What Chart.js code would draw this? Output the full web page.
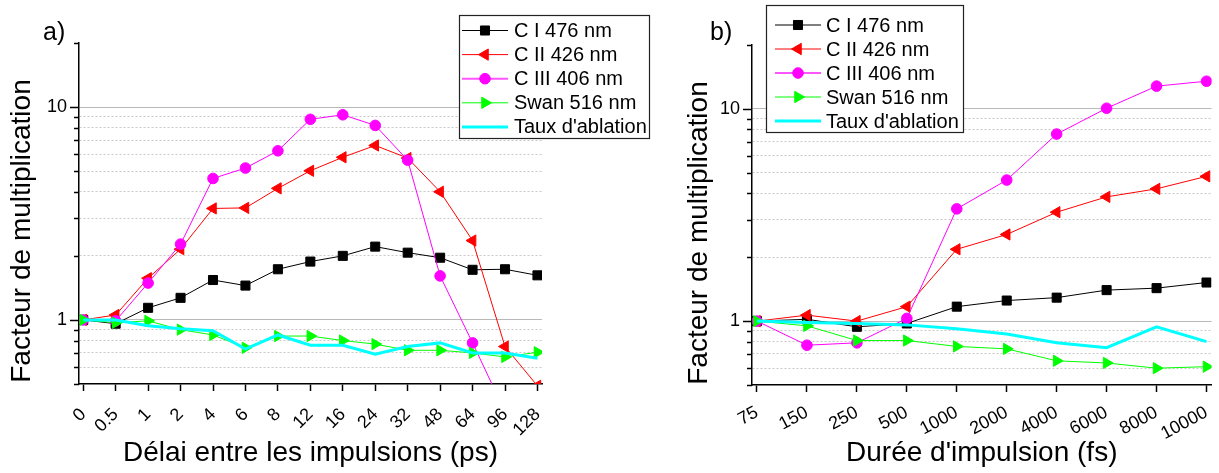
<!DOCTYPE html>
<html>
<head>
<meta charset="utf-8">
<script src="https://cdn.jsdelivr.net/npm/chart.js@4.4.0/dist/chart.umd.min.js"></script>
<style>
  body { margin: 0; background: #fff; width: 1219px; height: 473px; position: relative; overflow: hidden; }
  #wa { position: absolute; left: 0; top: 0; width: 660px; height: 473px; }
  #wb { position: absolute; left: 660px; top: 0; width: 559px; height: 473px; }
</style>
</head>
<body>
<div id="wa"><canvas id="chartA"></canvas></div>
<div id="wb"><canvas id="chartB"></canvas></div>
<script>
// Panel a) - delay between pulses (ps)
const delayLabels = ['0', '0.5', '1', '2', '4', '6', '8', '12', '16', '24', '32', '48', '64', '96', '128'];
const delayCI   = [1.0, 0.96, 1.14, 1.27, 1.54, 1.45, 1.73, 1.88, 2.0, 2.21, 2.07, 1.96, 1.72, 1.73, 1.62];
const delayCII  = [1.0, 1.055, 1.57, 2.15, 3.34, 3.36, 4.15, 5.02, 5.81, 6.6, 5.76, 4.0, 2.36, 0.75, 0.49];
const delayCIII = [1.0, 0.99, 1.49, 2.27, 4.62, 5.17, 6.23, 8.76, 9.2, 8.2, 5.63, 1.61, 0.78, 0.37, null];
const delaySwan = [1.0, 0.97, 0.99, 0.90, 0.85, 0.74, 0.84, 0.84, 0.80, 0.77, 0.72, 0.72, 0.70, 0.67, 0.705];
const delayAbl  = [1.0, 1.0, 0.94, 0.91, 0.89, 0.73, 0.85, 0.76, 0.76, 0.69, 0.75, 0.78, 0.70, 0.70, 0.66];

// Panel b) - pulse duration (fs)
const durLabels = ['75', '150', '250', '500', '1000', '2000', '4000', '6000', '8000', '10000'];
const durCI   = [1.0, 1.02, 0.94, 0.975, 1.17, 1.25, 1.29, 1.40, 1.43, 1.52];
const durCII  = [1.0, 1.067, 1.0, 1.17, 2.18, 2.56, 3.26, 3.85, 4.2, 4.81];
const durCIII = [1.0, 0.77, 0.79, 1.03, 3.38, 4.62, 7.61, 10.07, 12.8, 13.5];
const durSwan = [1.0, 0.95, 0.81, 0.81, 0.76, 0.74, 0.65, 0.635, 0.60, 0.61];
const durAbl  = [1.0, 0.985, 0.975, 0.96, 0.92, 0.87, 0.79, 0.75, 0.94, 0.80];

const seriesNames = ['C I 476 nm', 'C II 426 nm', 'C III 406 nm', 'Swan 516 nm', "Taux d'ablation"];
const yTitle = 'Facteur de multiplication';
const yTickVals = [0.5, 0.6, 0.7, 0.8, 0.9, 1, 2, 3, 4, 5, 6, 7, 8, 9, 10, 20];

const FONT = "'Liberation Sans', Arial, sans-serif";
const colors = ['#000000', '#ff0000', '#ff00ff', '#00ff00', '#00ffff'];
const markers = [
  { pointStyle: 'rect', rotation: 0, radius: 6.4 },
  { pointStyle: 'triangle', rotation: -90, radius: 6.5 },
  { pointStyle: 'circle', rotation: 0, radius: 5.3 },
  { pointStyle: 'triangle', rotation: 90, radius: 6.5 },
  null
];

function isMajor(v) { return v === 1 || v === 10; }

function makeDatasets(series) {
  return series.map((vals, i) => {
    const m = markers[i];
    return {
      label: seriesNames[i],
      data: vals.map((v, k) => ({ x: k, y: v })),
      borderColor: colors[i],
      backgroundColor: colors[i],
      borderWidth: m ? 1 : 3,
      pointStyle: m ? m.pointStyle : false,
      pointRotation: m ? m.rotation : 0,
      pointRadius: m ? m.radius : 0,
      pointBorderWidth: 1,
      tension: 0,
      order: 5 - i
    };
  });
}

// axis decorations: y tick marks, y title, legend box, panel letter
const decorPlugin = {
  id: 'decor',
  afterDraw(chart, args, o) {
    const ctx = chart.ctx;
    const ys = chart.scales.y;
    ctx.save();
    ctx.strokeStyle = '#000';
    ctx.lineWidth = 1.5;
    ys.ticks.forEach(t => {
      const py = Math.round(ys.getPixelForValue(t.value)) + 0.5;
      const len = isMajor(t.value) ? 9 : 5;
      ctx.beginPath();
      ctx.moveTo(ys.right, py);
      ctx.lineTo(ys.right - len, py);
      ctx.stroke();
    });

    // y axis title
    ctx.save();
    ctx.translate(o.yTitle.x, o.yTitle.y);
    ctx.rotate(-Math.PI / 2);
    ctx.font = '28px ' + FONT;
    ctx.fillStyle = '#000';
    ctx.textAlign = 'center';
    ctx.textBaseline = 'alphabetic';
    ctx.fillText(yTitle, 0, 0);
    ctx.restore();

    // legend
    const L = o.legend;
    ctx.fillStyle = '#fff';
    ctx.fillRect(L.x, L.y, L.w, L.h);
    ctx.strokeStyle = '#222';
    ctx.lineWidth = 1.2;
    ctx.strokeRect(L.x + 0.5, L.y + 0.5, L.w, L.h);
    ctx.font = '20px ' + FONT;
    ctx.textBaseline = 'middle';
    ctx.textAlign = 'left';
    seriesNames.forEach((name, i) => {
      const ry = L.row0 + i * L.step;
      const m = markers[i];
      ctx.strokeStyle = i === 2 ? '#ff55ff' : colors[i];
      ctx.lineWidth = m ? (i === 2 ? 2 : 1) : 3;
      ctx.beginPath();
      ctx.moveTo(L.lx0, ry);
      ctx.lineTo(L.lx1, ry);
      ctx.stroke();
      if (m) {
        ctx.fillStyle = colors[i];
        ctx.strokeStyle = colors[i];
        ctx.lineWidth = 1;
        Chart.helpers.drawPoint(ctx, { pointStyle: m.pointStyle, rotation: m.rotation, radius: m.radius, borderWidth: 1 }, (L.lx0 + L.lx1) / 2, ry);
      }
      ctx.fillStyle = '#000';
      ctx.fillText(name, L.tx, ry + 1);
    });

    ctx.font = '25px ' + FONT;
    ctx.textBaseline = 'alphabetic';
    ctx.fillStyle = '#000';
    ctx.fillText(o.letter.text, o.letter.x, o.letter.y);
    ctx.restore();
  }
};

function makeChart(canvasId, labels, series, cfg) {
  return new Chart(document.getElementById(canvasId), {
    type: 'line',
    data: { datasets: makeDatasets(series) },
    options: {
      responsive: true,
      maintainAspectRatio: false,
      animation: false,
      layout: { padding: { top: cfg.padTop, right: cfg.padRight, bottom: 0, left: 0 } },
      plugins: {
        legend: { display: false },
        tooltip: { enabled: false },
        decor: { legend: cfg.legend, letter: cfg.letter, yTitle: cfg.yTitlePos }
      },
      scales: {
        x: {
          type: 'linear',
          min: cfg.xMin,
          max: cfg.xMax,
          afterBuildTicks: s => { s.ticks = labels.map((_, i) => ({ value: i })); },
          afterFit: s => { s.height = cfg.xHeight; s.paddingLeft = 0; s.paddingRight = 0; },
          ticks: {
            autoSkip: false,
            minRotation: cfg.rot,
            maxRotation: cfg.rot,
            padding: cfg.xPad,
            color: '#000',
            font: { family: FONT, size: 18 },
            callback: v => labels[v]
          },
          grid: { drawOnChartArea: false, drawTicks: true, tickLength: 7, tickColor: '#000', tickWidth: 1.5 },
          border: { color: '#000', width: 1.5 },
          title: {
            display: true,
            text: cfg.xTitle,
            color: '#000',
            font: { family: FONT, size: 28, lineHeight: 1.2 },
            padding: { top: 0, bottom: 3 }
          }
        },
        y: {
          type: 'logarithmic',
          min: 0.5,
          max: 20,
          afterBuildTicks: s => { s.ticks = yTickVals.map(v => ({ value: v })); },
          afterFit: s => { s.width = cfg.yWidth; s.paddingTop = 0; s.paddingBottom = 0; },
          ticks: {
            autoSkip: false,
            padding: 12,
            color: '#000',
            font: { family: FONT, size: 18 },
            callback: v => isMajor(v) ? String(v) : ''
          },
          grid: {
            drawTicks: false,
            lineWidth: 1,
            color: c => {
              const v = c.tick ? c.tick.value : null;
              if (v === 0.5 || v === 20) return 'rgba(0,0,0,0)';
              return isMajor(v) ? '#b8b8b8' : '#c8c8c8';
            }
          },
          border: {
            color: '#000',
            width: 1.5,
            dash: c => (c.tick && !isMajor(c.tick.value)) ? [2, 2] : []
          },
          title: { display: false }
        }
      }
    },
    plugins: [decorPlugin]
  });
}

makeChart('chartA', delayLabels, [delayCI, delayCII, delayCIII, delaySwan, delayAbl], {
  padTop: 43, padRight: 118, xHeight: 89, yWidth: 79,
  xMin: -0.13, xMax: 14.14, rot: 45, xPad: 13,
  xTitle: 'Délai entre les impulsions (ps)',
  yTitlePos: { x: 30, y: 231 },
  legend: { x: 459, y: 15, w: 190, h: 123, row0: 30.5, step: 24.1, lx0: 462, lx1: 508, tx: 514 },
  letter: { text: 'a)', x: 43, y: 40 }
});

makeChart('chartB', durLabels, [durCI, durCII, durCIII, durSwan, durAbl], {
  padTop: 45, padRight: 3, xHeight: 88, yWidth: 92,
  xMin: -0.1, xMax: 9.1, rot: 28, xPad: 10,
  xTitle: "Durée d'impulsion (fs)",
  yTitlePos: { x: 47, y: 233 },
  legend: { x: 106, y: 5, w: 197, h: 127, row0: 25, step: 24, lx0: 115, lx1: 161, tx: 166 },
  letter: { text: 'b)', x: 50, y: 40 }
});
</script>
</body>
</html>
